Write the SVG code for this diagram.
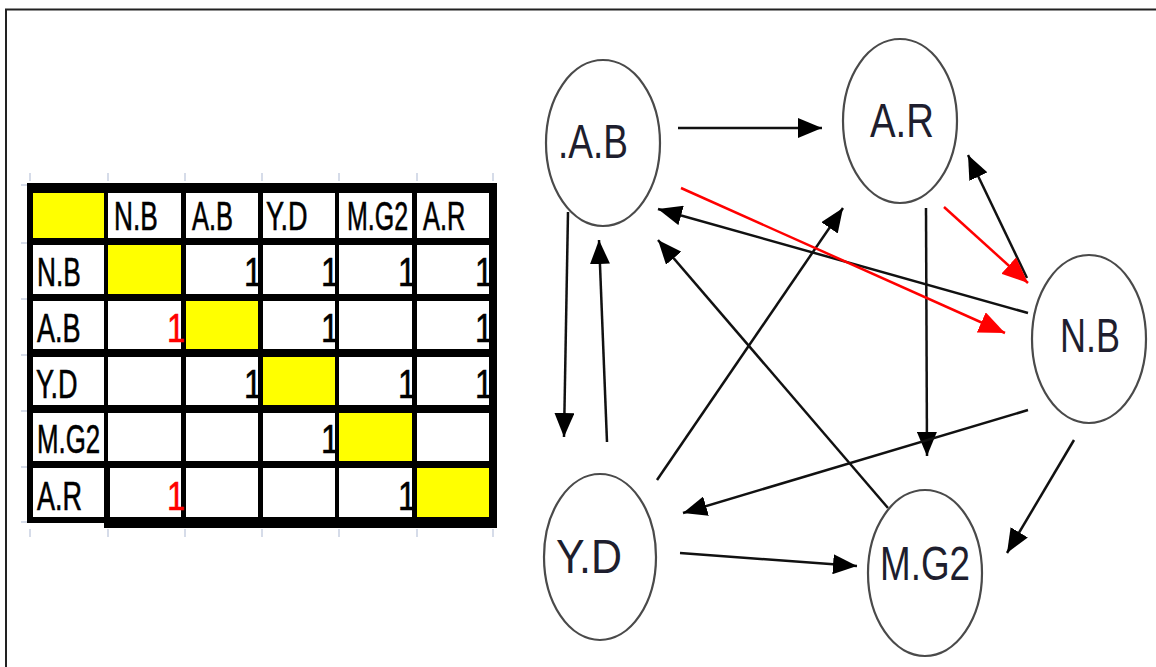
<svg xmlns="http://www.w3.org/2000/svg" width="1156" height="667" viewBox="0 0 1156 667">
<defs>
<style>
.frame{fill:none;stroke:#222;stroke-width:2}
.tick{stroke:#c8d0e2;stroke-width:1.5}
.cell{fill:#fff}
.yel{fill:#ffff00}
.tt{font-family:"Liberation Sans",Arial,sans-serif;font-size:41px;fill:#000;stroke:#000;stroke-width:0.6}
.red{fill:#ff0000;stroke:#ff0000}
.node ellipse{fill:#fff;stroke:#4a4a4a;stroke-width:2.2}
.node text{font-family:"Liberation Sans",Arial,sans-serif;font-size:49px;fill:#1e1e2e}
.edge{fill:none;stroke:#111;stroke-width:2.5}
.edge-red{fill:none;stroke:#ff0000;stroke-width:2.5}
</style>
<marker id="ah" markerUnits="userSpaceOnUse" markerWidth="24" markerHeight="20" refX="24" refY="10" orient="auto"><path d="M0,0 L24,10 L0,20 z" fill="#000"/></marker>
<marker id="ahr" markerUnits="userSpaceOnUse" markerWidth="26" markerHeight="22" refX="26" refY="11" orient="auto"><path d="M0,0 L26,11 L0,22 z" fill="#ff0000"/></marker>
</defs>
<rect width="1156" height="667" fill="#fff"/>
<path class="frame" d="M6,667 V9.5 H1156"/>

<g id="matrix">
<g class="ticks">
<line class="tick" x1="30" y1="173" x2="30" y2="181"/><line class="tick" x1="108" y1="173" x2="108" y2="181"/><line class="tick" x1="185" y1="173" x2="185" y2="181"/><line class="tick" x1="262" y1="173" x2="262" y2="181"/><line class="tick" x1="339" y1="173" x2="339" y2="181"/><line class="tick" x1="417" y1="173" x2="417" y2="181"/><line class="tick" x1="493" y1="173" x2="493" y2="181"/>
<line class="tick" x1="30" y1="529" x2="30" y2="537"/><line class="tick" x1="108" y1="529" x2="108" y2="537"/><line class="tick" x1="185" y1="529" x2="185" y2="537"/><line class="tick" x1="262" y1="529" x2="262" y2="537"/><line class="tick" x1="339" y1="529" x2="339" y2="537"/><line class="tick" x1="417" y1="529" x2="417" y2="537"/><line class="tick" x1="493" y1="529" x2="493" y2="537"/>
<line class="tick" x1="21" y1="185" x2="27" y2="185"/><line class="tick" x1="21" y1="243" x2="27" y2="243"/><line class="tick" x1="21" y1="299" x2="27" y2="299"/><line class="tick" x1="21" y1="355" x2="27" y2="355"/><line class="tick" x1="21" y1="411" x2="27" y2="411"/><line class="tick" x1="21" y1="467" x2="27" y2="467"/><line class="tick" x1="21" y1="522" x2="27" y2="522"/>
</g>
<rect x="27" y="183" width="470" height="340" fill="#000"/>
<rect x="104" y="515" width="393" height="13" fill="#000"/>
<rect class="yel" x="33" y="193" width="71" height="45"/>
<rect class="cell" x="108" y="193" width="73" height="45"/><rect class="cell" x="186" y="193" width="72" height="45"/><rect class="cell" x="263" y="193" width="72" height="45"/><rect class="cell" x="339" y="193" width="73" height="45"/><rect class="cell" x="417" y="193" width="72" height="45"/>
<rect class="cell" x="33" y="245" width="71" height="49"/><rect class="yel" x="108" y="245" width="73" height="49"/><rect class="cell" x="186" y="245" width="72" height="49"/><rect class="cell" x="263" y="245" width="72" height="49"/><rect class="cell" x="339" y="245" width="73" height="49"/><rect class="cell" x="417" y="245" width="72" height="49"/>
<rect class="cell" x="33" y="301" width="71" height="48"/><rect class="cell" x="108" y="301" width="73" height="48"/><rect class="yel" x="186" y="301" width="72" height="48"/><rect class="cell" x="263" y="301" width="72" height="48"/><rect class="cell" x="339" y="301" width="73" height="48"/><rect class="cell" x="417" y="301" width="72" height="48"/>
<rect class="cell" x="33" y="357" width="71" height="48"/><rect class="cell" x="108" y="357" width="73" height="48"/><rect class="cell" x="186" y="357" width="72" height="48"/><rect class="yel" x="263" y="357" width="72" height="48"/><rect class="cell" x="339" y="357" width="73" height="48"/><rect class="cell" x="417" y="357" width="72" height="48"/>
<rect class="cell" x="33" y="413" width="71" height="48"/><rect class="cell" x="108" y="413" width="73" height="48"/><rect class="cell" x="186" y="413" width="72" height="48"/><rect class="cell" x="263" y="413" width="72" height="48"/><rect class="yel" x="339" y="413" width="73" height="48"/><rect class="cell" x="417" y="413" width="72" height="48"/>
<rect class="cell" x="33" y="468" width="71" height="49"/><rect class="cell" x="110" y="468" width="71" height="49"/><rect class="cell" x="186" y="468" width="72" height="49"/><rect class="cell" x="263" y="468" width="72" height="49"/><rect class="cell" x="339" y="468" width="73" height="49"/><rect class="yel" x="417" y="468" width="72" height="49"/>

<g class="tt">
<text transform="translate(114,230) scale(0.64,1)">N.B</text>
<text transform="translate(192,230) scale(0.62,1)">A.B</text>
<text transform="translate(266,230) scale(0.66,1)">Y.D</text>
<text transform="translate(347,230) scale(0.61,1)">M.G2</text>
<text transform="translate(423,230) scale(0.62,1)">A.R</text>
<text transform="translate(37,286) scale(0.64,1)">N.B</text>
<text transform="translate(37,342) scale(0.66,1)">A.B</text>
<text transform="translate(36,398) scale(0.66,1)">Y.D</text>
<text transform="translate(37,453) scale(0.63,1)">M.G2</text>
<text transform="translate(37,510) scale(0.66,1)">A.R</text>
</g>
<g class="tt" text-anchor="end">
<text x="262" y="286" textLength="18" lengthAdjust="spacingAndGlyphs">1</text>
<text x="339" y="286" textLength="18" lengthAdjust="spacingAndGlyphs">1</text>
<text x="416" y="286" textLength="18" lengthAdjust="spacingAndGlyphs">1</text>
<text x="493" y="286" textLength="18" lengthAdjust="spacingAndGlyphs">1</text>
<text class="red" x="185" y="342" textLength="18" lengthAdjust="spacingAndGlyphs">1</text>
<text x="339" y="342" textLength="18" lengthAdjust="spacingAndGlyphs">1</text>
<text x="493" y="342" textLength="18" lengthAdjust="spacingAndGlyphs">1</text>
<text x="262" y="398" textLength="18" lengthAdjust="spacingAndGlyphs">1</text>
<text x="416" y="398" textLength="18" lengthAdjust="spacingAndGlyphs">1</text>
<text x="493" y="398" textLength="18" lengthAdjust="spacingAndGlyphs">1</text>
<text x="339" y="453" textLength="18" lengthAdjust="spacingAndGlyphs">1</text>
<text class="red" x="185" y="510" textLength="18" lengthAdjust="spacingAndGlyphs">1</text>
<text x="416" y="510" textLength="18" lengthAdjust="spacingAndGlyphs">1</text>
</g>
</g>

<g id="connectors">
<path class="edge" d="M678,128 L822,128" marker-end="url(#ah)"/>
<path class="edge" d="M1028,313 L658,209" marker-end="url(#ah)"/>
<path class="edge" d="M1027,278 L968,155" marker-end="url(#ah)"/>
<path class="edge" d="M926,208 L927,456" marker-end="url(#ah)"/>
<path class="edge" d="M1028,410 L683,513" marker-end="url(#ah)"/>
<path class="edge" d="M888,508 L658,240" marker-end="url(#ah)"/>
<path class="edge" d="M657,480 L843,208" marker-end="url(#ah)"/>
<path class="edge" d="M680,553 L857,566" marker-end="url(#ah)"/>
<path class="edge" d="M1074,440 L1007,553" marker-end="url(#ah)"/>
<path class="edge" d="M568,212 L564,437" marker-end="url(#ah)"/>
<path class="edge" d="M607,442 L599,240" marker-end="url(#ah)"/>
<path class="edge-red" d="M681,188 L1005,333" marker-end="url(#ahr)"/>
<path class="edge-red" d="M944,207 L1028,283" marker-end="url(#ahr)"/>
</g>

<g id="node-AB" class="node"><ellipse cx="603" cy="143" rx="57" ry="83"/><text x="558" y="158" textLength="70" lengthAdjust="spacingAndGlyphs">.A.B</text></g>
<g id="node-AR" class="node"><ellipse cx="900" cy="121" rx="57" ry="82"/><text x="870" y="137" textLength="64" lengthAdjust="spacingAndGlyphs">A.R</text></g>
<g id="node-NB" class="node"><ellipse cx="1089" cy="339" rx="57" ry="84"/><text x="1060" y="352" textLength="60" lengthAdjust="spacingAndGlyphs">N.B</text></g>
<g id="node-YD" class="node"><ellipse cx="600" cy="557" rx="56" ry="83"/><text x="556" y="573" textLength="66" lengthAdjust="spacingAndGlyphs">Y.D</text></g>
<g id="node-MG2" class="node"><ellipse cx="925" cy="573" rx="57" ry="83"/><text x="880" y="580" textLength="90" lengthAdjust="spacingAndGlyphs">M.G2</text></g>
</svg>
